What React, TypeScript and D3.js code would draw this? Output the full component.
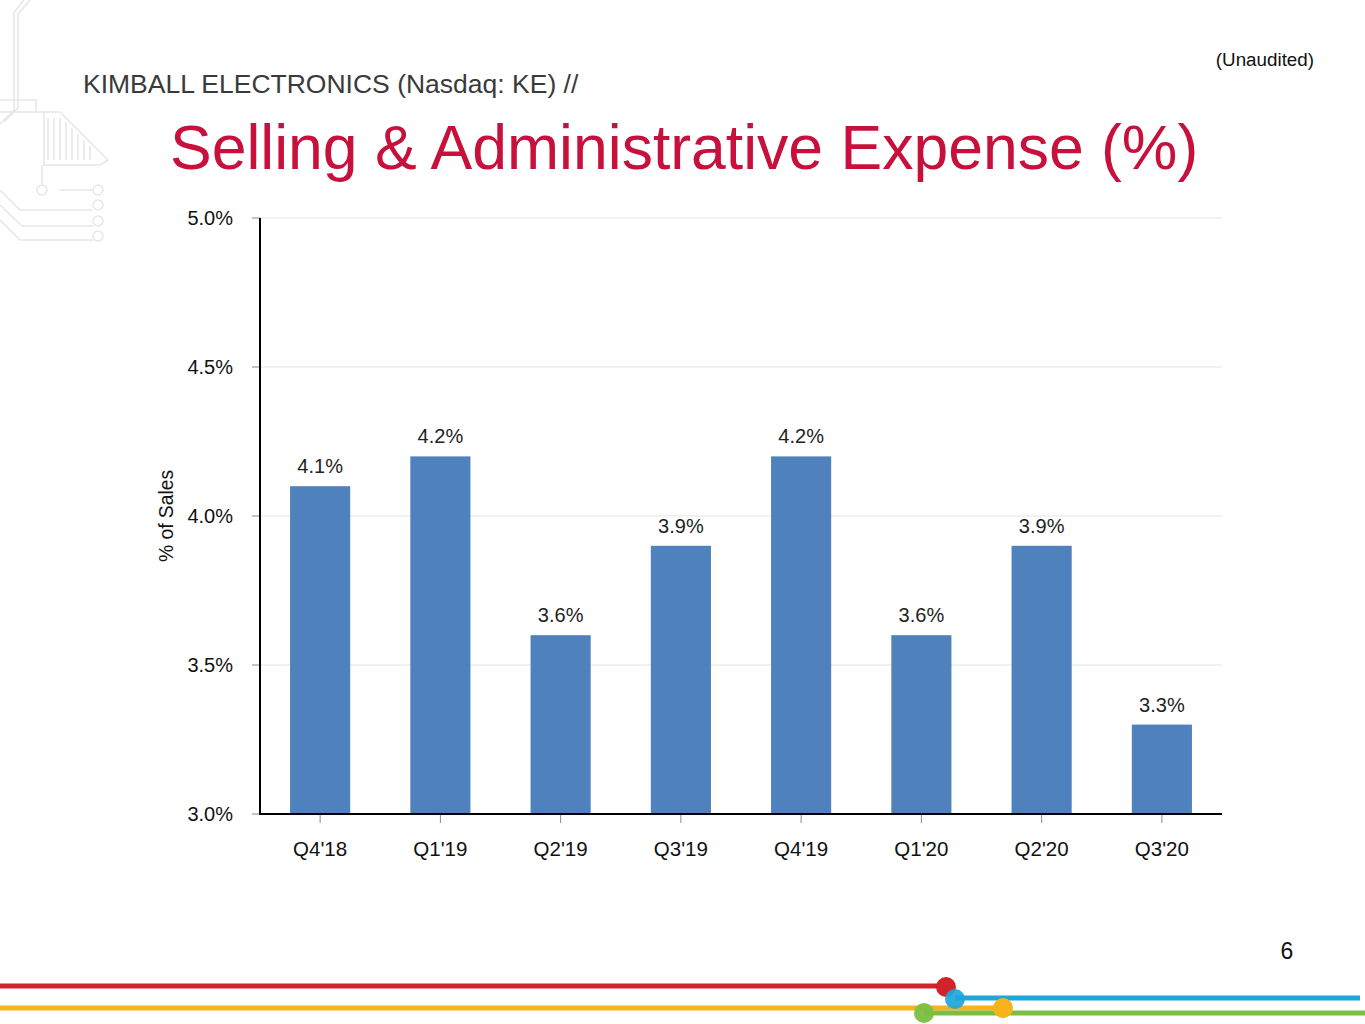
import React from "react";
import * as d3 from "d3";

const categories = ["Q4'18", "Q1'19", "Q2'19", "Q3'19", "Q4'19", "Q1'20", "Q2'20", "Q3'20"];
const values = [4.1, 4.2, 3.6, 3.9, 4.2, 3.6, 3.9, 3.3];
const yTicks = [3.0, 3.5, 4.0, 4.5, 5.0];

const W = 1365;
const H = 1024;
const plot = { left: 260, right: 1222, top: 218, bottom: 814 };
const FONT = "'Liberation Sans', Arial, Helvetica, sans-serif";

export default function App() {
  const x = d3
    .scaleBand<string>()
    .domain(categories)
    .range([plot.left, plot.right])
    .paddingInner(0.5)
    .paddingOuter(0.25);
  const y = d3.scaleLinear().domain([3.0, 5.0]).range([plot.bottom, plot.top]);
  const fmt = d3.format(".1f");

  return (
    <div style={{ position: "absolute", left: 0, top: 0 }}>
      <svg width={W} height={H} style={{ display: "block", fontFamily: FONT }}>
        <rect width={W} height={H} fill="#fff" />
        {/* circuit decoration */}
        <g fill="none" stroke="#e6e6e6" strokeWidth={1.5}>
          <path d="M24,0 L14,12 L14,110 L0,124" />
          <path d="M30,0 L18,14 L18,108 L4,122" />
          <path d="M0,100 L36,100 L36,112 L0,112" />
          <path d="M36,112 L44,112 L44,165 L100,165 L108,160 L60,112 L44,112" />
          <path d="M48,118 L48,160 M54,118 L54,160 M60,118 L60,160 M66,122 L66,160 M72,128 L72,160 M78,134 L78,160 M84,140 L84,160 M90,146 L90,160" />
          <path d="M42,165 L42,184" />
          <circle cx={42} cy={190} r={5} />
          <path d="M0,190 L20,210 L93,210" />
          <path d="M0,205 L22,226 L93,226" />
          <path d="M0,220 L20,240 L93,240" />
          <path d="M60,190 L93,190" />
          <circle cx={98} cy={190} r={5} />
          <circle cx={98} cy={205} r={5} />
          <circle cx={98} cy={221} r={5} />
          <circle cx={98} cy={236} r={5} />
        </g>

        <text x={1314} y={66} textAnchor="end" fontSize={18.8} fill="#111">(Unaudited)</text>
        <text x={83} y={93} fontSize={26.5} fill="#3a3a3a">KIMBALL ELECTRONICS (Nasdaq: KE) //</text>
        <text x={170} y={169} fontSize={62.5} fill="#C8103C">Selling &amp; Administrative Expense (%)</text>

        {/* gridlines */}
        {yTicks.map((t) => (
          <line key={"g" + t} x1={plot.left} x2={plot.right} y1={y(t)} y2={y(t)} stroke="#e3e3e3" strokeWidth={1} />
        ))}

        {/* bars */}
        {categories.map((c, i) => (
          <rect key={c} x={x(c)} y={y(values[i])} width={x.bandwidth()} height={plot.bottom - y(values[i])} fill="#4F81BD" />
        ))}
        {categories.map((c, i) => (
          <text key={"l" + c} x={(x(c) as number) + x.bandwidth() / 2} y={y(values[i]) - 13} textAnchor="middle" fontSize={20} fill="#222">
            {fmt(values[i])}%
          </text>
        ))}

        {/* y ticks */}
        {yTicks.map((t) => (
          <g key={"t" + t}>
            <line x1={plot.left - 8} x2={plot.left} y1={y(t)} y2={y(t)} stroke="#888" strokeWidth={1} />
            <text x={plot.left - 27} y={y(t) + 7} textAnchor="end" fontSize={20} fill="#111">{fmt(t)}%</text>
          </g>
        ))}
        {/* x ticks */}
        {categories.map((c) => (
          <g key={"x" + c}>
            <line x1={(x(c) as number) + x.bandwidth() / 2} x2={(x(c) as number) + x.bandwidth() / 2} y1={plot.bottom} y2={plot.bottom + 9} stroke="#888" strokeWidth={1} />
            <text x={(x(c) as number) + x.bandwidth() / 2} y={856} textAnchor="middle" fontSize={20.5} fill="#111">{c}</text>
          </g>
        ))}

        <line x1={plot.left} x2={plot.left} y1={plot.top} y2={plot.bottom + 1} stroke="#000" strokeWidth={2} />
        <line x1={plot.left - 1} x2={plot.right} y1={plot.bottom} y2={plot.bottom} stroke="#000" strokeWidth={2} />

        <text transform={`translate(173,${(plot.top + plot.bottom) / 2}) rotate(-90)`} textAnchor="middle" fontSize={19.3} fill="#111">% of Sales</text>

        <text x={1287} y={959} textAnchor="middle" fontSize={23} fill="#111">6</text>

        {/* bottom decoration */}
        <line x1={0} x2={946} y1={986} y2={986} stroke="#D2232A" strokeWidth={5} />
        <line x1={0} x2={1003} y1={1008} y2={1008} stroke="#F6B31B" strokeWidth={5} />
        <line x1={955} x2={1360} y1={998} y2={998} stroke="#1DA6DB" strokeWidth={5} />
        <line x1={924} x2={1365} y1={1013} y2={1013} stroke="#7BBF42" strokeWidth={5} />
        <circle cx={946} cy={987} r={10} fill="#D2232A" />
        <circle cx={955} cy={999} r={10} fill="#1DA6DB" opacity={0.92} />
        <circle cx={1003} cy={1008} r={10} fill="#F6B31B" />
        <circle cx={924} cy={1013} r={10} fill="#7BBF42" opacity={0.95} />
      </svg>
    </div>
  );
}
